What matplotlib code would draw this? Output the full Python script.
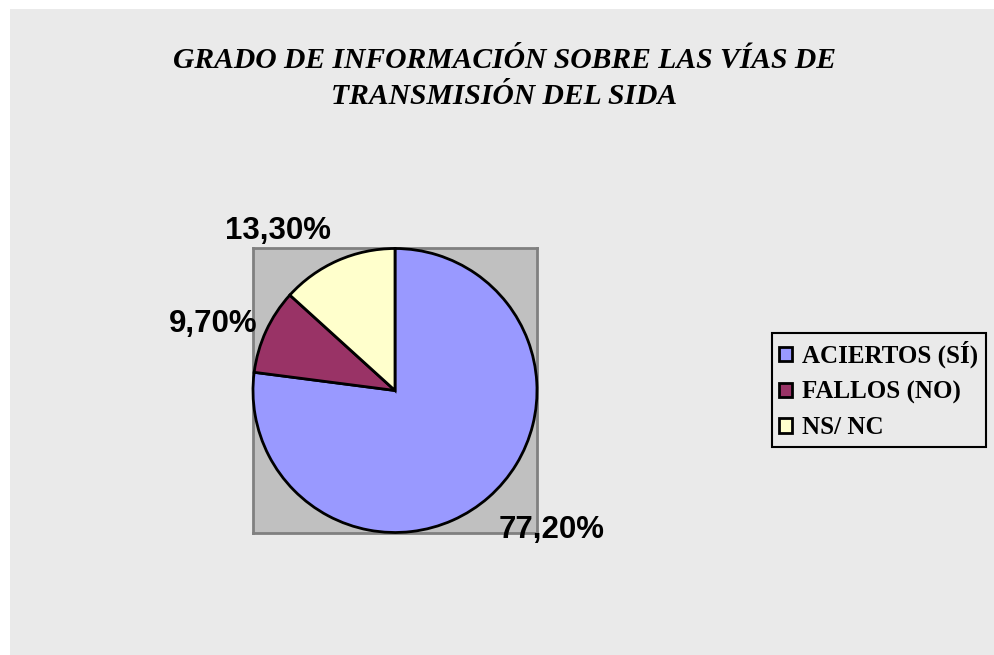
import matplotlib.pyplot as plt
from matplotlib.patches import Rectangle

# data
categories = ["ACIERTOS (SÍ)", "FALLOS (NO)", "NS/ NC"]
values = [77.2, 9.7, 13.3]
value_labels = ["77,20%", "9,70%", "13,30%"]
colors = ["#9999FF", "#993366", "#FFFFCC"]

# label placement (radius units, relative to the pie centre) and alignment
label_xy = [(0.73, -0.98), (-0.97, 0.47), (-0.45, 1.125)]
label_ha = ["left", "right", "right"]

W, H = 995, 655
fig = plt.figure(figsize=(W / 100, H / 100), dpi=100, facecolor="white")

# chart area background
fig.patches.append(Rectangle((10 / W, 0), 1 - 10 / W, 1 - 9 / H,
                             transform=fig.transFigure, facecolor="#EAEAEA",
                             edgecolor="none", zorder=-5))

title_font = dict(ha="center", va="center", family="Liberation Serif",
                  fontsize=21.3, fontweight="bold", style="italic")
fig.text(0.507, 1 - 61 / H, "GRADO DE INFORMACIÓN SOBRE LAS VÍAS DE", **title_font)
fig.text(0.507, 1 - 97 / H, "TRANSMISIÓN DEL SIDA", **title_font)

# plot area
ax = fig.add_axes([253 / W, 1 - 533 / H, 284 / W, 285 / H])

wedges, _ = ax.pie(values, colors=colors,
                   startangle=90, counterclock=False,
                   wedgeprops=dict(edgecolor="black", linewidth=2))
for w in wedges:
    w.set_clip_on(False)
ax.set_frame_on(True)
ax.set_facecolor("#C0C0C0")
for s in ax.spines.values():
    s.set_edgecolor("#808080")
    s.set_linewidth(2)
    s.set_zorder(0)
ax.set_xlim(-1.0, 1.0)
ax.set_ylim(-1.0, 1.0)
ax.set_aspect("equal")
ax.set_xticks([])
ax.set_yticks([])

for lab, (x, y), ha in zip(value_labels, label_xy, label_ha):
    ax.text(x, y, lab, ha=ha, va="center", family="Liberation Sans",
            fontweight="bold", fontsize=22.5, clip_on=False, zorder=5)

leg = fig.legend(wedges, categories, loc="center left",
                 bbox_to_anchor=(772 / W, 1 - 390 / H),
                 prop=dict(family="Liberation Serif", weight="bold", size=18),
                 frameon=True, fancybox=False, edgecolor="black",
                 facecolor="#EAEAEA", framealpha=1,
                 handlelength=0.5, handleheight=0.5, handletextpad=0.4,
                 borderpad=0.3, labelspacing=0.5, borderaxespad=0)
leg.get_frame().set_linewidth(1.5)

fig.savefig("out.png", dpi=100, facecolor="white")
